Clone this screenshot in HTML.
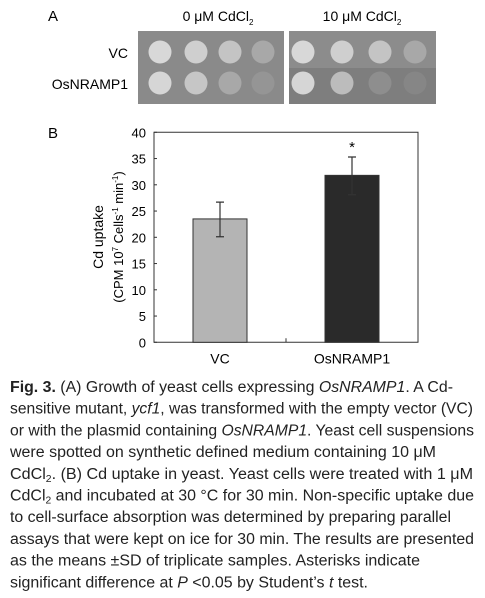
<!DOCTYPE html>
<html><head><meta charset="utf-8"><style>
html,body{margin:0;padding:0;background:#fff;}
svg{display:block;font-family:"Liberation Sans",Arial,sans-serif;}
</style></head><body>
<svg id="fig" width="485" height="598" viewBox="0 0 485 598">
  <g>
    <text x="48" y="21" font-size="15">A</text>
    <text x="218" y="21" font-size="14" text-anchor="middle">0 μM CdCl<tspan font-size="8" dy="4">2</tspan></text>
    <text x="362" y="21" font-size="14" text-anchor="middle">10 μM CdCl<tspan font-size="8" dy="4">2</tspan></text>
    <text x="128" y="58" font-size="14" text-anchor="end">VC</text>
    <text x="128" y="89" font-size="14" text-anchor="end">OsNRAMP1</text>
    <rect x="138" y="31" width="146" height="73" fill="#8a8a8a"/>
    <rect x="289" y="31" width="147" height="73" fill="#8c8c8c"/>
    <rect x="289" y="68" width="147" height="36" fill="#7e7e7e"/>
    <g id="spots"></g>
  </g>
  <g>
    <text x="48" y="138" font-size="15">B</text>
    <g id="chart"></g>
  </g>
  <g font-size="15.5" fill="#222">
    <text x="10" y="392" textLength="443" lengthAdjust="spacingAndGlyphs"><tspan font-weight="bold">Fig. 3.</tspan> (A) Growth of yeast cells expressing <tspan font-style="italic">OsNRAMP1</tspan>. A Cd-</text>
    <text x="10" y="413.7" textLength="463" lengthAdjust="spacingAndGlyphs">sensitive mutant, <tspan font-style="italic">ycf1</tspan>, was transformed with the empty vector (VC)</text>
    <text x="10" y="435.4" textLength="464" lengthAdjust="spacingAndGlyphs">or with the plasmid containing <tspan font-style="italic">OsNRAMP1</tspan>. Yeast cell suspensions</text>
    <text x="10" y="457.1" textLength="426" lengthAdjust="spacingAndGlyphs">were spotted on synthetic defined medium containing 10 μM</text>
    <text x="10" y="478.8" textLength="463" lengthAdjust="spacingAndGlyphs">CdCl<tspan font-size="10" dy="3">2</tspan><tspan dy="-3">. (B) Cd uptake in yeast. Yeast cells were treated with 1 μM</tspan></text>
    <text x="10" y="500.5" textLength="464" lengthAdjust="spacingAndGlyphs">CdCl<tspan font-size="10" dy="3">2</tspan><tspan dy="-3"> and incubated at 30 °C for 30 min. Non-specific uptake due</tspan></text>
    <text x="10" y="522.2" textLength="441" lengthAdjust="spacingAndGlyphs">to cell-surface absorption was determined by preparing parallel</text>
    <text x="10" y="543.9" textLength="464" lengthAdjust="spacingAndGlyphs">assays that were kept on ice for 30 min. The results are presented</text>
    <text x="10" y="565.6" textLength="410" lengthAdjust="spacingAndGlyphs">as the means ±SD of triplicate samples. Asterisks indicate</text>
    <text x="10" y="587.3" textLength="358" lengthAdjust="spacingAndGlyphs">significant difference at <tspan font-style="italic">P</tspan> &lt;0.05 by Student’s <tspan font-style="italic">t</tspan> test.</text>
  </g>
</svg>
<script>
const categories = ["VC", "OsNRAMP1"];
const values = [23.5, 31.8];
const errLow = [20.1, 28.1];
const errHigh = [26.7, 35.3];
const yTicks = [0, 5, 10, 15, 20, 25, 30, 35, 40];
const barColors = ["#b4b4b4", "#2a2a2a"];

const NS = "http://www.w3.org/2000/svg";
function mk(tag, attrs, parent) {
  const e = document.createElementNS(NS, tag);
  for (const k in attrs) e.setAttribute(k, attrs[k]);
  parent.appendChild(e);
  return e;
}
// spots in panel A
const spots = document.getElementById("spots");
const spotX = [[160,196,230,263],[303,342,380,415]];
const spotFill = [["#d8d8d8","#cfcfcf","#c4c4c4","#a8a8a8"],["#d6d6d6","#c6c6c6","#a8a8a8","#959595"],["#d8d8d8","#cfcfcf","#c4c4c4","#a8a8a8"],["#d6d6d6","#bcbcbc","#8e8e8e","#868686"]];
[52, 83].forEach((cy, r) => {
  spotX.forEach((xs, p) => {
    xs.forEach((cx, i) => {
      const c = mk("circle", {cx: cx, cy: cy, r: 11.5, fill: spotFill[p*2+r][i]}, spots);
      
      
    });
  });
});

// chart
const g = document.getElementById("chart");
const L = 154, R = 418, T = 132.3, B = 342.3, yMax = 40;
function y(v) { return B - (v / yMax) * (B - T); }
const band = (R - L) / categories.length;
function xc(i) { return L + band * (i + 0.5); }
const bw = 54;

const frame = mk("path", {d: `M${L},${T} H${R} V${B} H${L} Z`, fill: "none", stroke: "#333", "stroke-width": 1}, g);



yTicks.forEach(t => {
  const tk = mk("line", {x1: L, x2: L + 3, y1: y(t), y2: y(t), stroke: "#333"}, g);
  
  
  const lb = mk("text", {x: L - 8, y: y(t) + 5, "font-size": 13, "text-anchor": "end"}, g);
  lb.textContent = t;
  
  
});
const mid = mk("line", {x1: L + band, x2: L + band, y1: B, y2: B - 4, stroke: "#333"}, g);



categories.forEach((c, i) => {
  const bar = mk("rect", {x: xc(i) - bw/2, y: y(values[i]), width: bw, height: B - y(values[i]), fill: barColors[i], stroke: "#333", "stroke-width": 1}, g);
  
  
  const eb = mk("path", {d: `M${xc(i)},${y(errLow[i])} V${y(errHigh[i])} M${xc(i)-4},${y(errLow[i])} H${xc(i)+4} M${xc(i)-4},${y(errHigh[i])} H${xc(i)+4}`, stroke: "#333", "stroke-width": 1.2, fill: "none"}, g);
  
  
  const lb = mk("text", {x: xc(i), y: B + 21, "font-size": 14, "text-anchor": "middle"}, g);
  lb.textContent = c;
  
  
});
const star = mk("text", {x: xc(1), y: y(errHigh[1]) - 5, "font-size": 15, "text-anchor": "middle"}, g);
star.textContent = "*";



const yt = mk("text", {transform: "translate(103,237) rotate(-90)", "font-size": 14, "text-anchor": "middle"}, g);
yt.textContent = "Cd uptake";


const yt2 = mk("text", {transform: "translate(123,237) rotate(-90)", "font-size": 13, "text-anchor": "middle"}, g);
yt2.innerHTML = '(CPM 10<tspan font-size="8" dy="-5">7</tspan><tspan dy="5"> Cells</tspan><tspan font-size="8" dy="-5">-1</tspan><tspan dy="5"> min</tspan><tspan font-size="8" dy="-5">-1</tspan><tspan dy="5">)</tspan>';


</script>
</body></html>
